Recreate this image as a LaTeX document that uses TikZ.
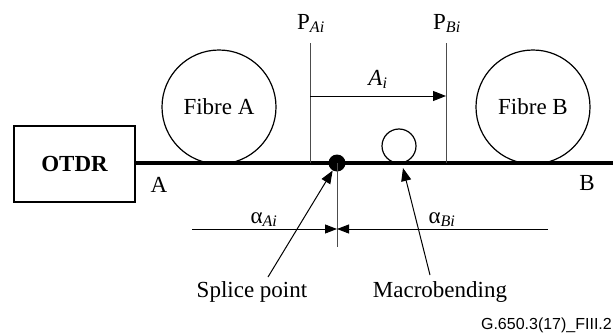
\documentclass[tikz,border=0pt]{standalone}
\usepackage{fontspec}
\setmainfont{Liberation Serif}
\newfontfamily\capfont{Liberation Sans}
\usetikzlibrary{arrows.meta,positioning}

\begin{document}
\begin{tikzpicture}[x=1pt,y=-1pt,
  otdrbox/.style={draw,line width=1.3pt,minimum width=121pt,minimum height=76pt,inner sep=0pt,font=\fontsize{23}{27}\selectfont\bfseries},
  fibre/.style={draw,circle,line width=1.2pt,minimum size=114pt,inner sep=0pt,font=\fontsize{23}{27}\selectfont},
  lbl/.style={inner sep=0pt,font=\fontsize{23}{27}\selectfont},
  guide/.style={draw=black!70,line width=0.9pt},
  fibreline/.style={line width=3.6pt},
  arr/.style={-{Triangle[length=13pt,width=10pt]},line width=1pt},
  dimarr/.style={-{Triangle[length=12pt,width=9pt]},line width=0.9pt}
]
\useasboundingbox (0,0) rectangle (613,332);
% instrument and fibre
\node[otdrbox] (otdr) at (74.5,164) {OTDR};
\coordinate (fend) at (613,163);
\draw[fibreline] (otdr.east |- fend) -- (fend);
\node[fibre] (fibreA) at (219,107) {Fibre A};
\node[fibre] (fibreB) at (533,107) {Fibre B};
\node[lbl] (endA) at (159,185) {A};
\node[lbl] (endB) at (587,183) {B};
% splice and macrobend
\node[circle,fill,minimum size=17pt,inner sep=0pt] (splice) at (337,163) {};
\node[circle,draw,line width=1.2pt,minimum size=34pt,inner sep=0pt] (bend) at (399,146) {};
% reference points
\node[lbl,anchor=base] (pA) at (311,29) {P\textsubscript{\textit{Ai}}};
\node[lbl,anchor=base] (pB) at (447,29) {P\textsubscript{\textit{Bi}}};
\coordinate (pAtop) at (310,43);
\coordinate (pBtop) at (446,43);
\draw[guide] (pAtop) -- (pAtop |- fend);
\draw[guide] (pBtop) -- (pBtop |- fend);
\coordinate (aiL) at (310,96);
\draw[arr] (aiL) -- (pBtop |- aiL);
\node[lbl,anchor=base] (ai) at (378,85) {\textit{A}\textsubscript{\textit{i}}};
% attenuation dimension
\coordinate (dimL) at (192,229);
\coordinate (dimR) at (548,229);
\coordinate (splicefoot) at (337,247);
\draw[guide] (splice.center) -- (splicefoot);
\draw[dimarr] (dimL) -- (splice |- dimL);
\draw[dimarr] (dimR) -- (splice |- dimL);
\node[lbl,anchor=base] (alA) at (264,223) {α\textsubscript{\textit{Ai}}};
\node[lbl,anchor=base] (alB) at (442,223) {α\textsubscript{\textit{Bi}}};
% callouts
\node[lbl] (sptxt) at (252,292) {Splice point};
\node[lbl] (mbtxt) at (440,292) {Macrobending};
\coordinate (mbtip) at (403,168);
\draw[arr] (268,277) -- (splice.240);
\draw[arr] (430,275) -- (mbtip);
\node[anchor=base east,inner sep=0pt,font=\capfont\fontsize{16}{19}\selectfont] (figid) at (612,329) {G.650.3(17)\_FIII.2};
\end{tikzpicture}
\end{document}
